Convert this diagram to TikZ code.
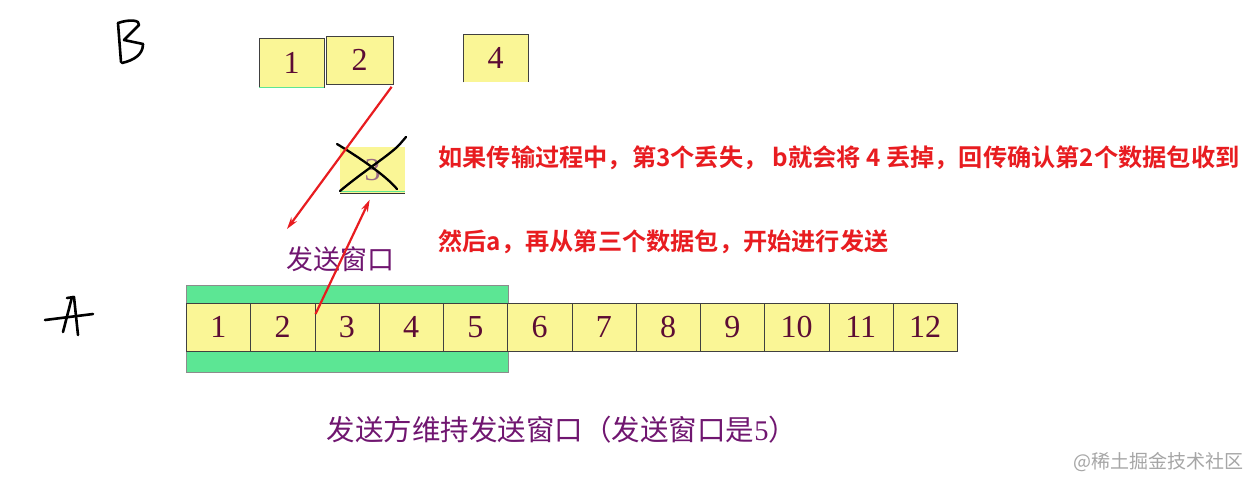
\documentclass[tikz,border=0pt]{standalone}
\usepackage{fontspec}
\setmainfont{Liberation Serif}
\newfontfamily\cjk{Noto Sans CJK SC}
\newfontfamily\cjkbold{Noto Sans CJK SC Bold}
\usetikzlibrary{arrows.meta}

\definecolor{cellyellow}{RGB}{250,246,150}
\definecolor{winggreen}{RGB}{92,230,148}
\definecolor{txtpurple}{RGB}{112,22,112}
\definecolor{digitred}{RGB}{92,12,52}
\definecolor{notered}{RGB}{232,28,32}

\tikzset{
  cell/.style={minimum width=64.25pt,minimum height=48pt,inner sep=0pt,anchor=north west,
    fill=cellyellow,draw=black!75,font=\fontsize{32}{32}\selectfont,text=digitred},
  note/.style={anchor=west,text=notered,font=\cjkbold\fontsize{24.2}{25}\selectfont},
  hand/.style={line width=2.6pt,line cap=round,line join=round},
  redarrow/.style={-{Stealth[length=12pt,width=7pt]},notered,line width=2.2pt},
}

\begin{document}
\begin{tikzpicture}[x=1pt,y=-1pt]
        \useasboundingbox[fill=white](0,0)rectangle(1255,487);
        % sender A
        \draw[hand](45,320)--(93,314);
        \draw[hand](72,297)--(63,332);
        \draw[hand](67,298)--(74,297)--(78,335);
        \fill[winggreen,draw=black!45,thick](186,285)rectangle(508,372);
        \foreach \i in {1,...,12}
          \node[cell](a\i)at({186+64.25*(\i-1)},303){\i};
        \node[text=txtpurple,font=\cjk\fontsize{27}{28}\selectfont](win)at(340,259){发送窗口};
        \node[text=txtpurple,font=\cjk\fontsize{28.5}{30}\selectfont](cap)at(562,430){发送方维持发送窗口（发送窗口是{\rmfamily 5}）};
        % receiver B
        \draw[hand](118,23)--(121,62);
        \draw[hand](118,23)..controls(130,19)and(140,20)..(139,25)--(124,40)--(143,44);
        \draw[hand](143,44)..controls(143,54)and(135,60)..(122,63);
        \node[cell,minimum width=65pt,minimum height=49pt](b1)at(259,38){1};
        \draw[winggreen,thick](b1.south west)--(b1.south east);
        \node[cell,minimum width=67pt](b2)at(326,36){2};
        \node[cell,draw=none,minimum width=65pt](b4)at(463,34){4};
        \draw[black!75](b4.south west)--(b4.north west)--(b4.north east)--(b4.south east);
        \node[cell,draw=none,minimum width=65pt,minimum height=46pt,text=digitred!60](b3)at(340,147){3};
        \draw[black!80,thick](b3.south west)--(b3.south east);
        \draw[winggreen,thick]([yshift=2pt]b3.south west)--([yshift=2pt]b3.south east);
        \draw[hand,line width=2.3pt](337,144)..controls(360,158)and(385,175)..(397,189);
        \draw[hand,line width=2.3pt](340,191)..controls(365,170)and(390,155)..(400,144)--(406,137);
        % ack and resend
        \coordinate(back)at(287,229);
        \draw[redarrow,shorten <=3pt](b2.south east)--(back);
        \draw[redarrow,shorten >=7pt]([shift={(1,11)}]a3.north west)--(b3.south);
        \node[note](n1)at(435,158){如果传输过程中，第3个丢失， b就会将 4 丢掉，回传确认第2个数据包收到};
        \node[note](n2)at(435,242){然后a，再从第三个数据包，开始进行发送};
        \node[text=black!35,font=\cjk\fontsize{19}{20}\selectfont](mark)at(1158,462){@稀土掘金技术社区};
    \end{tikzpicture}
\end{document}
